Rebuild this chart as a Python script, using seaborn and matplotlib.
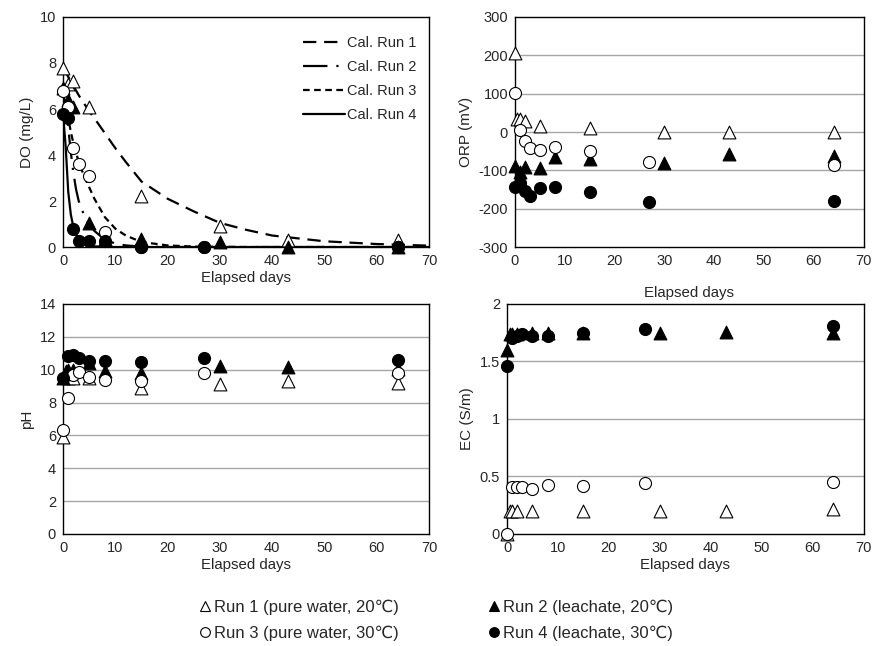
import numpy as np
import pandas as pd
import matplotlib
matplotlib.use("Agg")
import matplotlib.pyplot as plt
import seaborn as sns
from matplotlib.lines import Line2D
from matplotlib.ticker import FuncFormatter

nan = np.nan

# sampling days for each run
days_run1 = [0, 0.5, 1, 2, 5, 15, 30, 43, 64]
days_run2 = [0, 0.5, 1, 2, 5, 8, 15, 30, 43, 64]
days_run3 = [0, 1, 2, 3, 5, 8, 15, 27, 64]
days_run4 = [0, 1, 2, 3, 5, 8, 15, 27, 64]

# DO (mg/L)
do_run1 = [7.8, nan, 7.1, 7.2, 6.1, 2.2, 0.9, 0.3, 0.3]
do_run2 = [6.9, nan, 6.4, 6.1, 1.05, 0.35, 0.35, 0.2, 0.0, 0.0]
do_run3 = [6.8, 6.1, 4.3, 3.6, 3.1, 0.65, 0.0, 0.0, 0.0]
do_run4 = [5.8, 5.6, 0.8, 0.28, 0.25, 0.25, 0.0, 0.0, 0.0]

# ORP (mV)
orp_run1 = [205, 33, 33, 28, 16, 11, 1, 1, 1]
orp_run2 = [-89, nan, -103, -92, -95, -64, -71, -80, -58, -62]
orp_run3 = [103, 5, -23, -43, -47, -38, -49, -77, -85]
orp_run4 = [-143, -134, -154, -168, -145, -144, -156, -183, -180]

# pH
ph_run1 = [5.9, 9.6, 9.5, 9.5, 9.5, 8.9, 9.1, 9.3, 9.2]
ph_run2 = [9.5, 9.9, 10.0, 10.0, 10.4, 9.9, 9.8, 10.2, 10.15, 10.05]
ph_run3 = [6.35, 8.3, 9.7, 9.85, 9.55, 9.4, 9.3, 9.8, 9.8]
ph_run4 = [9.5, 10.85, 10.9, 10.7, 10.5, 10.5, 10.45, 10.7, 10.6]

# EC (S/m)
ec_run1 = [0.0, 0.2, 0.2, 0.2, 0.2, 0.2, 0.2, 0.2, 0.22]
ec_run2 = [1.6, 1.74, 1.74, 1.74, 1.75, 1.75, 1.75, 1.75, 1.76, 1.75]
ec_run3 = [0.0, 0.41, 0.41, 0.41, 0.39, 0.43, 0.42, 0.44, 0.45]
ec_run4 = [1.46, 1.70, 1.72, 1.74, 1.72, 1.72, 1.75, 1.78, 1.81]

# calculated DO curves
cal_days = [0, 0.5, 1, 1.5, 2, 2.5, 3, 4, 5, 6, 8, 10, 12, 15, 20, 25, 30, 35, 40, 50, 60, 70]
cal_run1 = [7.8, 7.6, 7.4, 7.2, 7.0, 6.8, 6.6, 6.25, 5.9, 5.6, 4.95, 4.3, 3.7, 2.85,
            2.1, 1.55, 1.05, 0.75, 0.5, 0.25, 0.13, 0.06]
cal_run2 = [6.8, 6.0, 5.2, 4.1, 3.2, 2.5, 2.0, 1.4, 1.0, 0.7, 0.32, 0.15, 0.07, 0.02,
            0.0, 0.0, 0.0, 0.0, 0.0, 0.0, 0.0, 0.0]
cal_run3 = [6.8, 6.2, 5.6, 5.0, 4.5, 4.1, 3.7, 3.1, 2.6, 2.1, 1.3, 0.8, 0.5, 0.22,
            0.07, 0.02, 0.01, 0.0, 0.0, 0.0, 0.0, 0.0]
cal_run4 = [5.8, 4.4, 2.4, 1.4, 0.85, 0.55, 0.35, 0.15, 0.07, 0.03, 0.01, 0.0, 0.0, 0.0,
            0.0, 0.0, 0.0, 0.0, 0.0, 0.0, 0.0, 0.0]

run_labels = ["Run 1 (pure water, 20\u2103)", "Run 2 (leachate, 20\u2103)",
              "Run 3 (pure water, 30\u2103)", "Run 4 (leachate, 30\u2103)"]
cal_labels = ["Cal. Run 1", "Cal. Run 2", "Cal. Run 3", "Cal. Run 4"]

sns.set_style("white")
plt.rcParams["font.family"] = ["Liberation Sans", "DejaVu Sans"]
plt.rcParams["font.size"] = 10.5

styles = [("^", "white"), ("^", "black"), ("o", "white"), ("o", "black")]
all_days = [days_run1, days_run2, days_run3, days_run4]

fig = plt.figure(figsize=(8.74, 6.46), dpi=100)
ax_do = fig.add_axes([0.0721, 0.6176, 0.4188, 0.3561])
ax_orp = fig.add_axes([0.5892, 0.6176, 0.3988, 0.3561])
ax_ph = fig.add_axes([0.0721, 0.1734, 0.4188, 0.3561])
ax_ec = fig.add_axes([0.5801, 0.1734, 0.4079, 0.3561])


def draw_runs(ax, series):
    for days, vals, (m, fc) in zip(all_days, series, styles):
        df = pd.DataFrame({"day": days, "val": vals}).dropna()
        sns.scatterplot(data=df, x="day", y="val", ax=ax, marker=m, color=fc,
                        edgecolor="black", s=75 if m == "o" else 85,
                        linewidth=0.8, clip_on=False, zorder=3)


def style_axis(ax, ylim, yticks, ylabel, grid, xlabelpad=2):
    ax.set_xlim(0, 70)
    ax.set_xticks(range(0, 71, 10))
    ax.set_ylim(*ylim)
    ax.set_yticks(yticks)
    ax.yaxis.set_major_formatter(FuncFormatter(lambda v, p: f"{v:g}"))
    ax.tick_params(length=0, labelsize=10.5, pad=5)
    ax.set_xlabel("Elapsed days", fontsize=10.8, labelpad=xlabelpad)
    ax.set_ylabel(ylabel, fontsize=11, labelpad=4)
    for sp in ax.spines.values():
        sp.set_color("black")
        sp.set_linewidth(1.0)
    if grid:
        for y in yticks[1:-1]:
            ax.axhline(y, color="#a6a6a6", lw=1.0, zorder=0)


# calculated curves on DO panel
dash_styles = [(0, (6, 3.5)), (0, (11, 4, 1, 4)), (0, (3, 2)), "-"]
for vals, ls, lab in zip([cal_run1, cal_run2, cal_run3, cal_run4], dash_styles, cal_labels):
    sns.lineplot(x=cal_days, y=vals, ax=ax_do, color="black", lw=1.6,
                 linestyle=ls, label=lab, zorder=2)

draw_runs(ax_do, [do_run1, do_run2, do_run3, do_run4])
draw_runs(ax_orp, [orp_run1, orp_run2, orp_run3, orp_run4])
draw_runs(ax_ph, [ph_run1, ph_run2, ph_run3, ph_run4])
draw_runs(ax_ec, [ec_run1, ec_run2, ec_run3, ec_run4])

style_axis(ax_do, (0, 10), list(range(0, 11, 2)), "DO (mg/L)", False)
style_axis(ax_orp, (-300, 300), list(range(-300, 301, 100)), "ORP (mV)", True, xlabelpad=13)
style_axis(ax_ph, (0, 14), list(range(0, 15, 2)), "pH", True)
style_axis(ax_ec, (0, 2), [0, 0.5, 1, 1.5, 2], "EC (S/m)", True)

leg = ax_do.legend(loc="upper right", frameon=False, handlelength=2.9,
                   handletextpad=0.1, labelspacing=0.7, fontsize=10.5,
                   bbox_to_anchor=(1.0, 0.975))

# bottom legend for measured runs
handles = []
for (m, fc) in styles:
    handles.append(Line2D([], [], marker=m, linestyle="none", markerfacecolor=fc,
                          markeredgecolor="black", markersize=7, markeredgewidth=0.8))
order = [0, 2, 1, 3]
fig.legend([handles[i] for i in order], [run_labels[i] for i in order],
           ncol=2, loc="center", bbox_to_anchor=(0.50, 0.04), frameon=False,
           fontsize=12, handlelength=0.5, handletextpad=0.25,
           columnspacing=5.5, labelspacing=0.6)

fig.savefig("out.png", dpi=100)
